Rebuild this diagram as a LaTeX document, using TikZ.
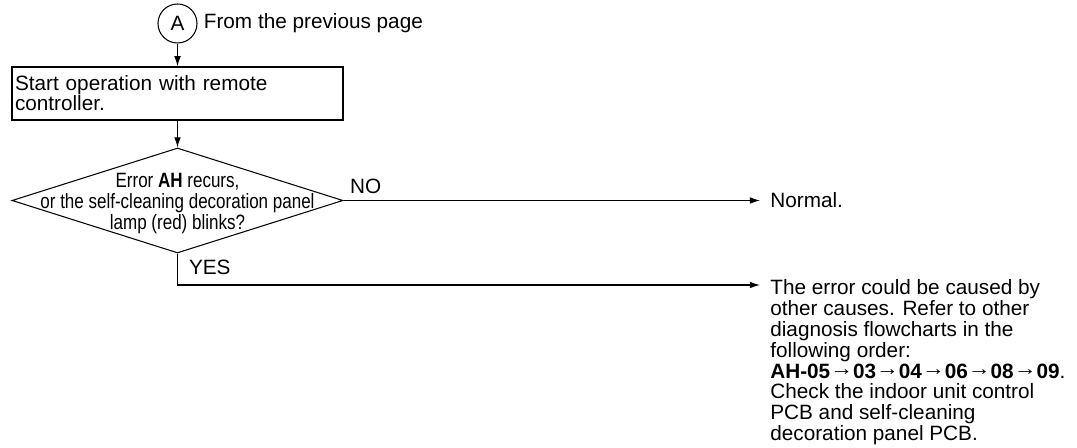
\documentclass[tikz,border=0pt]{standalone}
\usepackage{fontspec}
\setmainfont{Liberation Sans}
\newfontfamily\condfont[FakeStretch=0.82]{Liberation Sans}
\usetikzlibrary{shapes.geometric,arrows.meta,positioning}
\setlength{\lineskiplimit}{-20pt}
\newcommand{\nextto}{\raisebox{0.1em}{\scalebox{1.1}[1]{→}}}

\begin{document}
\begin{tikzpicture}[
  font=\fontsize{11.8}{11.9}\selectfont,
  >={Latex[length=5.8pt,width=3.8pt]},
  connector/.style={
    circle,
    draw,
    line width=0.6pt,
    minimum size=0.78cm,
    inner sep=0pt
  },
  process/.style={
    rectangle,
    draw,
    line width=0.75pt,
    minimum width=6.62cm,
    minimum height=1.06cm,
    text width=6.5cm,
    align=left,
    inner xsep=0.05cm,
    font=\fontsize{11.8}{11.4}\selectfont
  },
  decision/.style={
    diamond,
    draw,
    line width=0.6pt,
    minimum width=6.62cm,
    minimum height=2.1cm,
    inner sep=0pt
  },
  qtext/.style={
    align=center,
    inner sep=0pt,
    font=\condfont\fontsize{11.8}{11.8}\selectfont
  },
  arr/.style={
    ->,
    line width=0.6pt
  },
  lbl/.style={
    inner sep=0.12cm
  },
  result/.style={
    align=left,
    inner xsep=0.2cm,
    inner ysep=0pt
  }
]

\useasboundingbox (0,0) rectangle (21.54,-8.96);

\node[connector] (A) at (3.55,-0.47) {A};
\node[right=0pt of A, inner sep=0.12cm] (prev) {From the previous page};
\node[process] (S) at (3.55,-1.87) {Start operation with remote\\controller.};
\node[decision] (Q) at (3.55,-4.01) {};
\node[qtext] (Qt) at ([yshift=-0.06cm]Q.center) {%
  Error \textbf{AH} recurs,\\
  or the self-cleaning decoration panel\\
  lamp (red) blinks?};
\node[result, anchor=west] (N) at (15.2,-4.01) {Normal.};
\coordinate (yes) at (15.2,-5.70);
\node[result, anchor=north west] (E) at (15.2,-5.58) {%
  The error could be caused by\\
  other causes. Refer to other\\
  diagnosis flowcharts in the\\
  following order:\\
  \textbf{AH-05\nextto03\nextto04\nextto06\nextto08\nextto09}.\\
  Check the indoor unit control\\
  PCB and self-cleaning\\
  decoration panel PCB.};

\draw[arr] (A) -- (S);
\draw[arr] (S) -- (Q);
\draw[arr] (Q.east) -- node[lbl, pos=0, anchor=south west] {NO} (N.west);
\draw[arr] (Q.south) |- node[lbl, pos=0, anchor=north west, xshift=0.1cm] {YES} (yes);

\end{tikzpicture}
\end{document}
